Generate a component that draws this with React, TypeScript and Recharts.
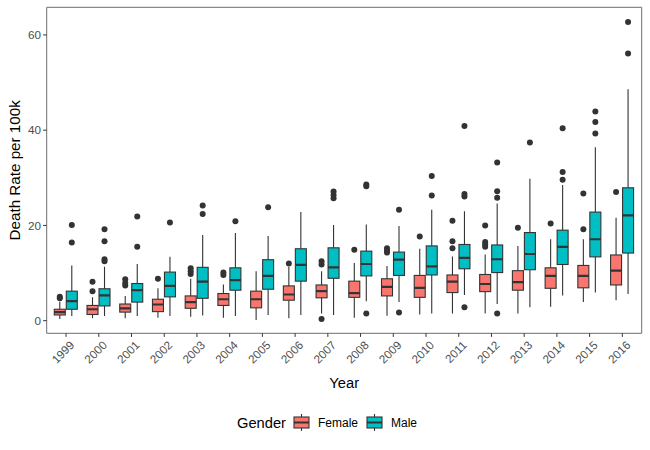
import { ComposedChart, Bar, XAxis, YAxis, Legend } from 'recharts';

const years = ['1999', '2000', '2001', '2002', '2003', '2004', '2005', '2006', '2007', '2008', '2009', '2010', '2011', '2012', '2013', '2014', '2015', '2016'];

// Female box stats (whisker low, Q1, median, Q3, whisker high) + outliers
const femaleLow = [0.35, 0.5, 0.5, 0.6, 0.8, 0.6, 0.15, 0.5, 1.5, 0.6, 1.05, 1.3, 1.5, 1.5, 1.5, 2.9, 3.9, 4.3];
const femaleQ1 = [1.2, 1.3, 1.8, 1.9, 2.6, 3.2, 2.7, 4.3, 4.8, 4.9, 5.2, 4.9, 5.9, 6.1, 6.4, 6.8, 6.9, 7.5];
const femaleMed = [1.8, 2.4, 2.6, 3.4, 3.9, 4.5, 4.5, 5.5, 6.2, 5.8, 7.1, 6.9, 8.2, 7.7, 8.1, 9.4, 9.4, 10.5];
const femaleQ3 = [2.4, 3.2, 3.5, 4.5, 5.2, 5.7, 6.2, 7.3, 7.5, 8.3, 8.8, 9.5, 9.6, 9.7, 10.5, 11.1, 11.6, 13.8];
const femaleHigh = [4.0, 4.9, 5.2, 6.8, 8.8, 7.6, 10.4, 11.3, 10.4, 12.1, 11.5, 15.1, 13.5, 13.9, 15.7, 17.1, 17.1, 21.6];
const femaleOut = [
  [4.7, 5.0], [6.2, 8.2], [7.4, 7.9, 8.7], [8.8], [9.8, 10.4, 11.0], [9.6, 10.1], [], [12.0],
  [0.35, 11.8, 12.5], [14.9], [14.3, 14.7, 15.2], [17.7], [15.2, 16.7, 21.0], [15.5, 16.0, 16.5, 20.0],
  [19.5], [20.4], [19.2, 26.7], [27.0],
];

// Male box stats
const maleLow = [1.0, 1.0, 1.0, 1.0, 1.1, 1.0, 1.2, 1.2, 1.2, 4.1, 3.9, 1.5, 5.4, 3.5, 2.8, 5.3, 5.9, 5.6];
const maleQ1 = [2.4, 3.1, 3.9, 5.0, 4.7, 6.4, 6.6, 8.3, 8.9, 9.4, 9.5, 9.6, 10.9, 10.1, 10.7, 11.8, 13.4, 14.2];
const maleMed = [4.1, 5.3, 6.4, 7.3, 8.2, 8.5, 9.4, 11.7, 11.2, 11.9, 12.8, 11.4, 13.2, 12.9, 14.0, 15.5, 17.1, 22.1];
const maleQ3 = [6.2, 6.7, 7.8, 10.2, 11.2, 11.1, 12.8, 15.1, 15.3, 14.6, 14.4, 15.7, 16.0, 15.9, 18.5, 19.0, 22.8, 27.9];
const maleHigh = [11.6, 11.3, 11.9, 13.4, 18.0, 18.4, 17.8, 22.8, 20.1, 20.2, 19.9, 23.3, 23.0, 24.6, 29.8, 28.5, 36.4, 48.6];
const maleOut = [
  [16.4, 20.1], [12.5, 12.9, 16.7, 19.2], [15.5, 21.9], [20.6], [22.4, 24.2], [20.9], [23.8], [],
  [25.7, 26.4, 27.1], [1.5, 28.2, 28.6], [1.7, 23.3], [26.3, 30.4], [2.8, 26.1, 26.6, 40.9],
  [1.5, 25.8, 27.2, 33.2], [37.4], [29.6, 31.2, 40.4], [39.3, 41.7, 43.9], [56.1, 62.7],
];

const yTicks = [0, 20, 40, 60];
const Y_MIN = -2.65;
const Y_MAX = 65.8;

const FEMALE = '#F8766D';
const MALE = '#00BFC4';
const INK = '#333333';
const BORDER = '#6e6e6e';
const FONT = '"Liberation Sans", Arial, Helvetica, sans-serif';

const data = years.map((year, i) => ({
  year,
  female: { low: femaleLow[i], q1: femaleQ1[i], med: femaleMed[i], q3: femaleQ3[i], high: femaleHigh[i], out: femaleOut[i] },
  male: { low: maleLow[i], q1: maleQ1[i], med: maleMed[i], q3: maleQ3[i], high: maleHigh[i], out: maleOut[i] },
}));

// box + whiskers + outliers, positioned from the bar's [low, high] range
const makeBox = (key: 'female' | 'male', fill: string) => (props: any) => {
  const { x, y, width, height, payload } = props;
  const s = payload[key];
  const top = Math.min(y, y + height);
  const bottom = Math.max(y, y + height);
  const py = (v: number) => bottom - ((v - s.low) / (s.high - s.low)) * (bottom - top);
  const cx = x + width / 2;
  return (
    <g>
      <line x1={cx} x2={cx} y1={py(s.high)} y2={py(s.q3)} stroke={INK} strokeWidth={1.1} />
      <line x1={cx} x2={cx} y1={py(s.q1)} y2={py(s.low)} stroke={INK} strokeWidth={1.1} />
      <rect x={x + 0.5} y={py(s.q3)} width={width - 1} height={py(s.q1) - py(s.q3)} fill={fill} stroke={INK} strokeWidth={1.1} />
      <line x1={x + 0.5} x2={x + width - 0.5} y1={py(s.med)} y2={py(s.med)} stroke={INK} strokeWidth={2.2} />
      {s.out.map((v: number, j: number) => (
        <circle key={j} cx={cx} cy={py(v)} r={3} fill={INK} />
      ))}
    </g>
  );
};

const YearTick = (props: any) => {
  const { x, y, payload } = props;
  return (
    <g transform={`translate(${x + 3},${y + 1})`}>
      <text transform="rotate(-45)" textAnchor="end" dy="0.72em" fontSize={11.7} fill="#4D4D4D" fontFamily={FONT}>
        {payload.value}
      </text>
    </g>
  );
};

const KeyIcon = ({ fill }: { fill: string }) => (
  <svg width={17} height={17} style={{ display: 'block' }}>
    <line x1={8.5} x2={8.5} y1={0} y2={17} stroke={INK} strokeWidth={1.1} />
    <rect x={1} y={3} width={15} height={11} fill={fill} stroke={INK} strokeWidth={1.1} />
    <line x1={1} x2={16} y1={8.5} y2={8.5} stroke={INK} strokeWidth={2} />
  </svg>
);

const GenderLegend = () => (
  <div style={{ display: 'flex', alignItems: 'center', justifyContent: 'center', fontFamily: FONT, color: '#000', paddingLeft: 4 }}>
    <span style={{ fontSize: 14.7, marginRight: 7 }}>Gender</span>
    <KeyIcon fill={FEMALE} />
    <span style={{ fontSize: 12, marginLeft: 8, marginRight: 8 }}>Female</span>
    <KeyIcon fill={MALE} />
    <span style={{ fontSize: 12, marginLeft: 8 }}>Male</span>
  </div>
);

export default function App() {
  return (
    <div style={{ position: 'absolute', left: 0, top: 0, width: 650, height: 450, background: '#fff' }}>
      <ComposedChart
        width={650}
        height={450}
        data={data}
        margin={{ top: 6.3, right: 7.3, left: 0, bottom: 56.7 }}
        barCategoryGap="12.5%"
        barGap={0}
      >
        <XAxis
          dataKey="year"
          height={60}
          padding={{ left: 3, right: 3 }}
          interval={0}
          tickSize={3.6}
          tickLine={{ stroke: INK }}
          axisLine={{ stroke: BORDER }}
          tick={<YearTick />}
          label={(p: any) => {
            const vb = p.viewBox;
            return (
              <text x={vb.x + vb.width / 2} y={vb.y + 50} textAnchor="middle" dominantBaseline="central" fontSize={14.7} fontFamily={FONT} fill="#000">
                Year
              </text>
            );
          }}
        />
        <XAxis xAxisId="top" orientation="top" dataKey="year" height={1} tick={false} tickLine={false} axisLine={{ stroke: BORDER }} />
        <YAxis
          type="number"
          width={46.7}
          domain={[Y_MIN, Y_MAX]}
          ticks={yTicks}
          allowDataOverflow
          tickSize={3.6}
          tickMargin={2}
          tickLine={{ stroke: INK }}
          axisLine={{ stroke: BORDER }}
          tick={{ fontSize: 11.7, fill: '#4D4D4D', fontFamily: FONT }}
          label={(p: any) => {
            const vb = p.viewBox;
            return (
              <text
                x={15}
                y={vb.y + vb.height / 2}
                transform={`rotate(-90, 15, ${vb.y + vb.height / 2})`}
                textAnchor="middle"
                dominantBaseline="central"
                fontSize={15.2}
                fontFamily={FONT}
                fill="#000"
              >
                Death Rate per 100k
              </text>
            );
          }}
        />
        <YAxis yAxisId="right" orientation="right" width={1} domain={[Y_MIN, Y_MAX]} tick={false} tickLine={false} axisLine={{ stroke: BORDER }} />
        <Legend
          layout="horizontal"
          verticalAlign="middle"
          align="center"
          content={() => <GenderLegend />}
          wrapperStyle={{ top: 414, left: 0, width: 650 }}
        />
        <Bar
          dataKey={(d: any) => [d.female.low, d.female.high]}
          name="Female"
          fill={FEMALE}
          shape={makeBox('female', FEMALE)}
          isAnimationActive={false}
        />
        <Bar
          dataKey={(d: any) => [d.male.low, d.male.high]}
          name="Male"
          fill={MALE}
          shape={makeBox('male', MALE)}
          isAnimationActive={false}
        />
      </ComposedChart>
    </div>
  );
}
